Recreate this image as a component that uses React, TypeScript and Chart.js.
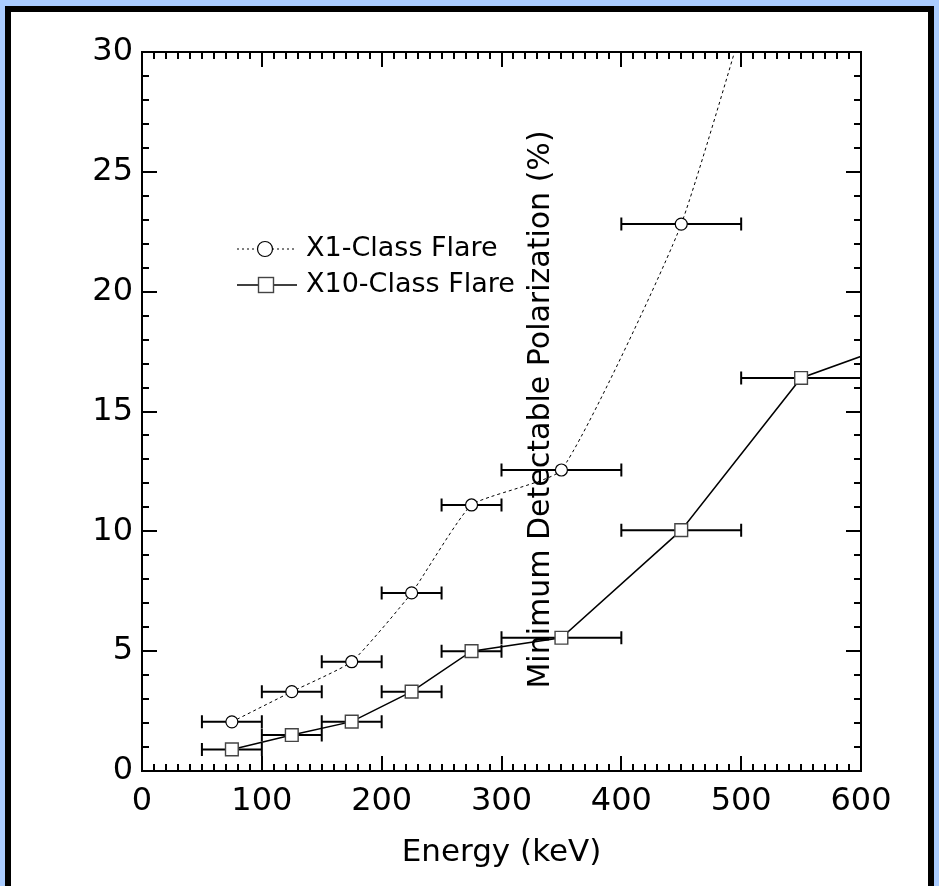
import React, { useEffect, useRef } from "react";
import { Chart, registerables } from "chart.js";

Chart.register(...registerables);

// ---- data ----
const energies = [75, 125, 175, 225, 275, 350, 450, 550, 650];
const binLow = [50, 100, 150, 200, 250, 300, 400, 500, 600];
const binHigh = [100, 150, 200, 250, 300, 400, 500, 600, 700];
const x1ClassMDP: (number | null)[] = [2.05, 3.31, 4.56, 7.43, 11.1, 12.56, 22.82, 39.5, null];
const x10ClassMDP: (number | null)[] = [0.9, 1.5, 2.06, 3.31, 5.0, 5.56, 10.05, 16.4, 18.2];
const xTickValues = [0, 100, 200, 300, 400, 500, 600];
const yTickValues = [0, 5, 10, 15, 20, 25, 30];
const seriesLabels = ["X1-Class Flare", "X10-Class Flare"];
const xTitle = "Energy (keV)";
const yTitle = "Minimum Detectable Polarization (%)";

const FONT = '"DejaVu Sans", Verdana, sans-serif';

function toPoints(vals: (number | null)[]) {
  return energies
    .map((e, i) => ({ x: e, y: vals[i] }))
    .filter((p) => p.y !== null && p.y !== undefined);
}

const decorPlugin = {
  id: "decor",
  beforeDatasetsDraw(chart: any) {
    const { ctx, chartArea: a, scales } = chart;
    const xs = scales.x;
    const ys = scales.y;
    // y-axis title, drawn in the middle of the plot
    ctx.save();
    ctx.fillStyle = "#000";
    ctx.font = `30px ${FONT}`;
    ctx.textAlign = "center";
    ctx.textBaseline = "alphabetic";
    ctx.translate(549, (a.top + a.bottom) / 2 - 2);
    ctx.rotate(-Math.PI / 2);
    ctx.fillText(yTitle, 0, 0);
    ctx.restore();

    // horizontal error bars (energy bins)
    ctx.save();
    ctx.beginPath();
    ctx.rect(a.left, a.top, a.right - a.left, a.bottom - a.top);
    ctx.clip();
    ctx.strokeStyle = "#000";
    ctx.lineWidth = 2;
    ctx.lineCap = "butt";
    [x1ClassMDP, x10ClassMDP].forEach((vals) => {
      vals.forEach((v, i) => {
        if (v === null || v === undefined) return;
        const py = ys.getPixelForValue(v);
        const xl = xs.getPixelForValue(binLow[i]);
        const xh = xs.getPixelForValue(binHigh[i]);
        ctx.beginPath();
        ctx.moveTo(xl, py);
        ctx.lineTo(xh, py);
        ctx.moveTo(xl, py - 6.5);
        ctx.lineTo(xl, py + 6.5);
        ctx.moveTo(xh, py - 6.5);
        ctx.lineTo(xh, py + 6.5);
        ctx.stroke();
      });
    });
    ctx.restore();
  },
  afterDatasetsDraw(chart: any) {
    const { ctx, chartArea: a, scales } = chart;
    const xs = scales.x;
    const ys = scales.y;
    ctx.save();
    ctx.strokeStyle = "#000";
    ctx.lineWidth = 2;
    ctx.lineCap = "butt";
    // frame
    ctx.strokeRect(a.left, a.top, a.right - a.left, a.bottom - a.top);
    // inward ticks on all four sides
    ctx.beginPath();
    for (let v = xs.min; v <= xs.max + 1e-6; v += 10) {
      const px = Math.round(xs.getPixelForValue(v));
      const len = Math.abs(v % 100) < 1e-6 ? 15 : 7;
      ctx.moveTo(px, a.bottom);
      ctx.lineTo(px, a.bottom - len);
      ctx.moveTo(px, a.top);
      ctx.lineTo(px, a.top + len);
    }
    for (let v = ys.min; v <= ys.max + 1e-6; v += 1) {
      const py = Math.round(ys.getPixelForValue(v));
      const len = Math.abs(v % 5) < 1e-6 ? 15 : 7;
      ctx.moveTo(a.left, py);
      ctx.lineTo(a.left + len, py);
      ctx.moveTo(a.right, py);
      ctx.lineTo(a.right - len, py);
    }
    ctx.stroke();
    ctx.restore();

    // legend
    ctx.save();
    const rows = [249, 285];
    ctx.font = `27px ${FONT}`;
    ctx.fillStyle = "#000";
    ctx.textAlign = "left";
    ctx.textBaseline = "middle";
    // row 1: dotted line + circle
    ctx.strokeStyle = "#000";
    ctx.lineWidth = 1;
    ctx.setLineDash([2, 3]);
    ctx.beginPath();
    ctx.moveTo(237, rows[0]);
    ctx.lineTo(297, rows[0]);
    ctx.stroke();
    ctx.setLineDash([]);
    ctx.beginPath();
    ctx.arc(265, rows[0], 7.5, 0, Math.PI * 2);
    ctx.fillStyle = "#fff";
    ctx.fill();
    ctx.lineWidth = 1.2;
    ctx.strokeStyle = "#000";
    ctx.stroke();
    ctx.fillStyle = "#000";
    ctx.fillText(seriesLabels[0], 306, rows[0]);
    // row 2: solid line + square
    ctx.lineWidth = 1.3;
    ctx.beginPath();
    ctx.moveTo(237, rows[1]);
    ctx.lineTo(297, rows[1]);
    ctx.stroke();
    ctx.fillStyle = "#fff";
    ctx.fillRect(258.5, rows[1] - 7.5, 15, 15);
    ctx.strokeStyle = "#444";
    ctx.lineWidth = 1.4;
    ctx.strokeRect(258.5, rows[1] - 7.5, 15, 15);
    ctx.fillStyle = "#000";
    ctx.fillText(seriesLabels[1], 306, rows[1]);
    ctx.restore();
  },
};

export default function App() {
  const canvasRef = useRef<HTMLCanvasElement | null>(null);

  useEffect(() => {
    const canvas = canvasRef.current;
    if (!canvas) return;
    const chart = new Chart(canvas, {
      type: "line",
      data: {
        datasets: [
          {
            label: seriesLabels[0],
            data: toPoints(x1ClassMDP) as any,
            borderColor: "#000",
            borderWidth: 1,
            borderDash: [3, 3],
            tension: 0.15,
            pointStyle: "circle",
            pointRadius: 6,
            pointBackgroundColor: "#fff",
            pointBorderColor: "#000",
            pointBorderWidth: 1.2,
            fill: false,
            clip: 0,
          },
          {
            label: seriesLabels[1],
            data: toPoints(x10ClassMDP) as any,
            borderColor: "#000",
            borderWidth: 1.5,
            tension: 0,
            pointStyle: "rect",
            pointRadius: 9,
            pointBackgroundColor: "#fff",
            pointBorderColor: "#444",
            pointBorderWidth: 1.4,
            fill: false,
            clip: 0,
          },
        ],
      },
      options: {
        animation: false,
        responsive: false,
        maintainAspectRatio: false,
        events: [],
        layout: { padding: { left: 0, top: 52, right: 78, bottom: 0 } },
        plugins: {
          legend: { display: false },
          tooltip: { enabled: false },
          title: { display: false },
        },
        scales: {
          x: {
            type: "linear",
            min: 0,
            max: 600,
            grid: { display: false, drawTicks: false },
            border: { display: false },
            afterBuildTicks: (s: any) => {
              s.ticks = xTickValues.map((v) => ({ value: v }));
            },
            afterFit: (s: any) => {
              s.height = 115;
            },
            ticks: {
              color: "#000",
              font: { family: FONT, size: 32 },
              padding: 11,
              maxRotation: 0,
              autoSkip: false,
            },
            title: {
              display: true,
              text: xTitle,
              color: "#000",
              font: { family: FONT, size: 31 },
              padding: { top: 0, bottom: 14 },
            },
          },
          y: {
            type: "linear",
            min: 0,
            max: 30,
            grid: { display: false, drawTicks: false },
            border: { display: false },
            afterBuildTicks: (s: any) => {
              s.ticks = yTickValues.map((v) => ({ value: v }));
            },
            afterFit: (s: any) => {
              s.width = 142;
            },
            ticks: {
              color: "#000",
              font: { family: FONT, size: 32 },
              padding: 9,
              autoSkip: false,
            },
          },
        },
      },
      plugins: [decorPlugin],
    });
    return () => chart.destroy();
  }, []);

  return (
    <div style={{ position: "fixed", left: 0, top: 0, width: 939, height: 886, background: "#aaccff", overflow: "hidden" }}>
      <div
        style={{
          position: "absolute",
          left: 5,
          top: 6,
          width: 917,
          height: 900,
          background: "#fff",
          border: "6px solid #000",
        }}
      />
      <canvas
        ref={canvasRef}
        width={939}
        height={886}
        style={{ position: "absolute", left: 0, top: 0, width: 939, height: 886 }}
      />
    </div>
  );
}
